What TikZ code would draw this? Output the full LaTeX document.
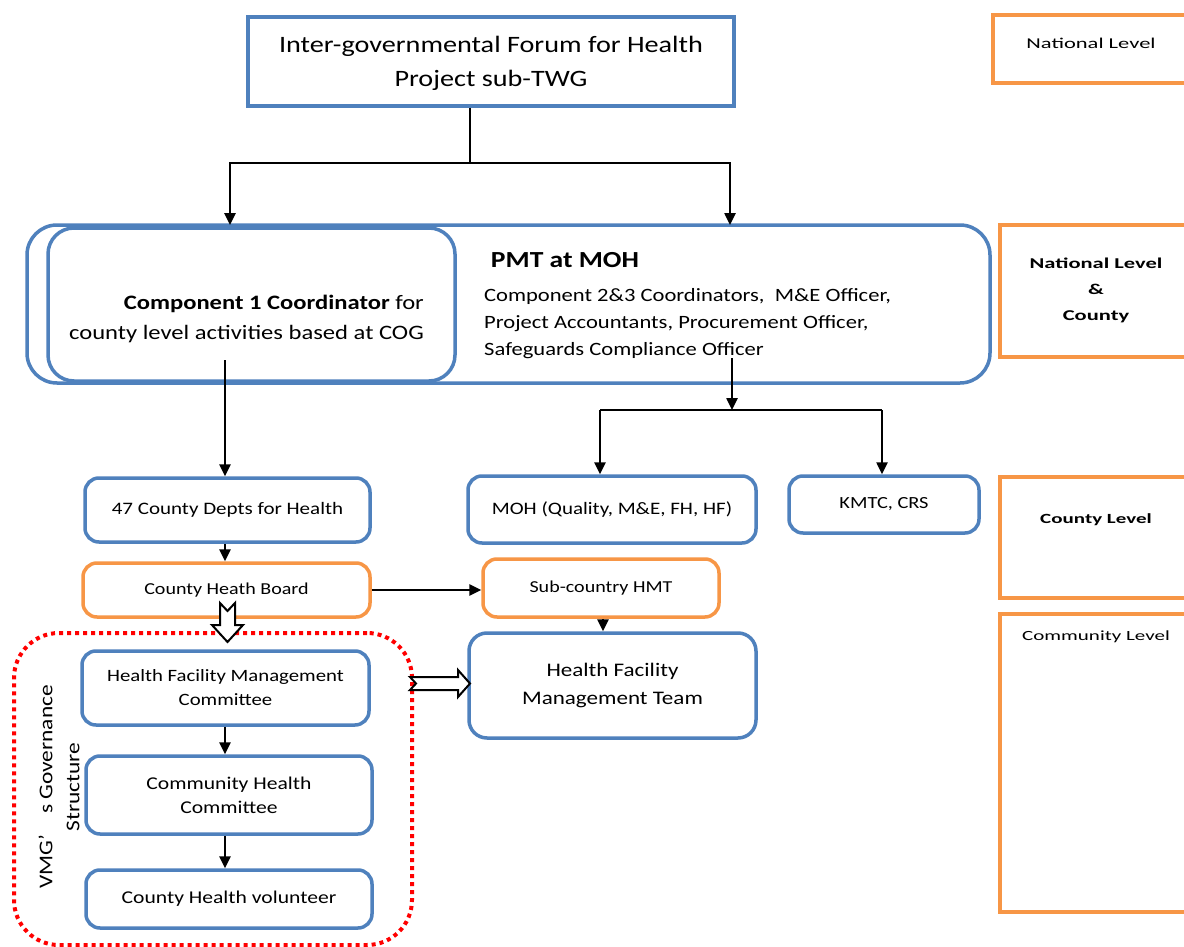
\documentclass[tikz,border=0pt]{standalone}
\usepackage{fontspec}
\setmainfont{Carlito}[FakeStretch=1.2]
\newfontfamily\wider{Carlito}[FakeStretch=1.5]
\usetikzlibrary{arrows.meta}
\definecolor{bl}{HTML}{4F81BD}
\definecolor{org}{HTML}{F79646}
\definecolor{rd}{HTML}{FF0000}
\tikzset{
  bbox/.style={draw=bl, line width=3.5pt, rounded corners=14pt, fill=white, inner sep=0pt, align=center},
  obox/.style={draw=org, line width=3.5pt, rounded corners=14pt, fill=white, inner sep=0pt, align=center},
  lvl/.style={draw=org, line width=3.5pt, fill=white, inner sep=0pt, align=center},
  arr/.style={line width=2.5pt, -{Triangle[length=12pt,width=11pt]}},
  ln/.style={line width=2.5pt},
  hollow/.style={draw=black, line width=2pt, fill=white, line join=miter},
  fs/.style 2 args={font=\fontsize{#1}{#2}\selectfont},
  ws/.style 2 args={font=\wider\fontsize{#1}{#2}\selectfont},
}
\begin{document}
\begin{tikzpicture}[x=1pt,y=-1pt]
\clip (0,0) rectangle (1184,947);
\fill[white] (0,0) rectangle (1184,947);
% top
\node[draw=bl, line width=3.5pt, fill=white, minimum width=486pt, minimum height=89pt, inner sep=0pt] (top) at (491,61.5) {};
\node[align=center, fs={23.5}{34}, inner sep=0pt] (topt) at (491,63) {Inter-governmental Forum for Health\\Project sub-TWG};
% PMT
\node[bbox, rounded corners=30pt, minimum width=963pt, minimum height=158pt] (pmt) at (508.5,304) {};
\node[bbox, rounded corners=26pt, minimum width=407pt, minimum height=153pt] (comp) at (251.5,304.5) {};
\node[fs={20.5}{30}, align=right, inner sep=0pt, anchor=east] (compt) at (424,319) {\textbf{Component 1 Coordinator} for\\county level activities based at COG};
\node[font=\bfseries\fontsize{23}{27}\selectfont, inner sep=0pt] (pmtt) at (565,260) {PMT at MOH};
\node[anchor=north west, align=left, inner sep=0pt, fs={18.8}{27}] (pmtb) at (484,288) {Component 2\&3 Coordinators,~ M\&E Officer,\\Project Accountants, Procurement Officer,\\Safeguards Compliance Officer};
% boxes
\node[bbox, fs={17.5}{24}, minimum width=285pt, minimum height=64pt] (cnty) at (227.5,510) {47 County Depts for Health};
\node[bbox, fs={17.5}{24}, minimum width=288pt, minimum height=67pt] (moh) at (612,509.5) {MOH (Quality, M\&E, FH, HF)};
\node[bbox, fs={17}{22}, minimum width=190pt, minimum height=57pt] (kmtc) at (884,504.5) {KMTC, CRS};
\node[obox, fs={16.7}{22}, minimum width=287pt, minimum height=54pt] (chb) at (226.5,590) {County Heath Board};
\node[obox, fs={16.7}{22}, minimum width=236pt, minimum height=58pt] (shmt) at (601,588) {Sub-country HMT};
\node[bbox, fs={19.2}{28}, minimum width=287pt, minimum height=105pt, rounded corners=18pt] (hfmt) at (612.5,685.5) {Health Facility\\Management Team};
% VMG
\node[draw=rd, line width=4pt, dash pattern=on 4pt off 4pt, rounded corners=45pt, minimum width=398pt, minimum height=312pt, inner sep=0pt] (vmg) at (213,789) {};
\node[rotate=90, align=center, fs={19.5}{27}, inner sep=0pt] (vmgt) at (59,787) {VMG’~~~~s Governance\\Structure};
\node[bbox, fs={17.3}{24}, minimum width=287pt, minimum height=74pt] (hfmc) at (225.5,688) {Health Facility Management\\Committee};
\node[bbox, fs={18}{24}, minimum width=286pt, minimum height=78pt] (chc) at (229,795) {Community Health\\Committee};
\node[bbox, fs={18}{22}, minimum width=286pt, minimum height=58pt] (chv) at (229,899) {County Health volunteer};
% levels
\node[lvl, minimum width=220pt, minimum height=68pt] (l1) at (1103,49) {};
\node[ws={15}{20}, inner sep=0pt] (l1t) at (1091,43) {National Level};
\node[lvl, minimum width=220pt, minimum height=132pt] (l2) at (1110,291) {};
\node[font=\wider\bfseries\fontsize{15}{26}\selectfont, align=center, inner sep=0pt] (l2t) at (1096,290) {National Level\\\&\\County};
\node[lvl, minimum width=220pt, minimum height=121pt] (l3) at (1110,537.5) {};
\node[font=\wider\bfseries\fontsize{14}{20}\selectfont, inner sep=0pt] (l3t) at (1096,520) {County Level};
\node[lvl, minimum width=220pt, minimum height=298pt] (l4) at (1110,763) {};
\node[ws={14}{20}, inner sep=0pt] (l4t) at (1096,637) {Community Level};
% connectors
\coordinate (s1) at (470,163);
\coordinate (t1) at (230,225);
\coordinate (t2) at (730,225);
\draw[ln] (top.south -| s1) -- (s1);
\draw[arr] (s1) -| (t1);
\draw[arr] (s1) -| (t2);
\coordinate (c1) at (225,360);
\draw[arr] (c1) -- (cnty.north -| c1);
\coordinate (p1) at (732,358);
\coordinate (p2) at (732,410);
\coordinate (p3) at (600,410);
\coordinate (p4) at (882,410);
\draw[arr] (p1) -- (p2);
\draw[ln] (p3) -- (p4);
\draw[arr] (p3) -- (moh.north -| p3);
\draw[arr] (p4) -- (kmtc.north -| p4);
\draw[arr] (cnty.south -| c1) -- (chb.north -| c1);
\draw[arr] (chb.east) -- (chb.east -| shmt.west);
\coordinate (h1) at (603,0);
\draw[arr] (shmt.south -| h1) -- (hfmt.north -| h1);
\draw[arr] (hfmc.south -| c1) -- (chc.north -| c1);
\draw[arr] (chc.south -| c1) -- (chv.north -| c1);
% hollow arrows
\draw[hollow] (220,603) -- (227.5,611) -- (235,603) -- (235,625) -- (243,625) -- (227.5,642) -- (212,625) -- (220,625) -- cycle;
\draw[hollow] (410,677) -- (416,683.5) -- (410,690) -- (458,690) -- (458,697) -- (470,683.5) -- (458,670) -- (458,677) -- cycle;
\end{tikzpicture}
\end{document}
